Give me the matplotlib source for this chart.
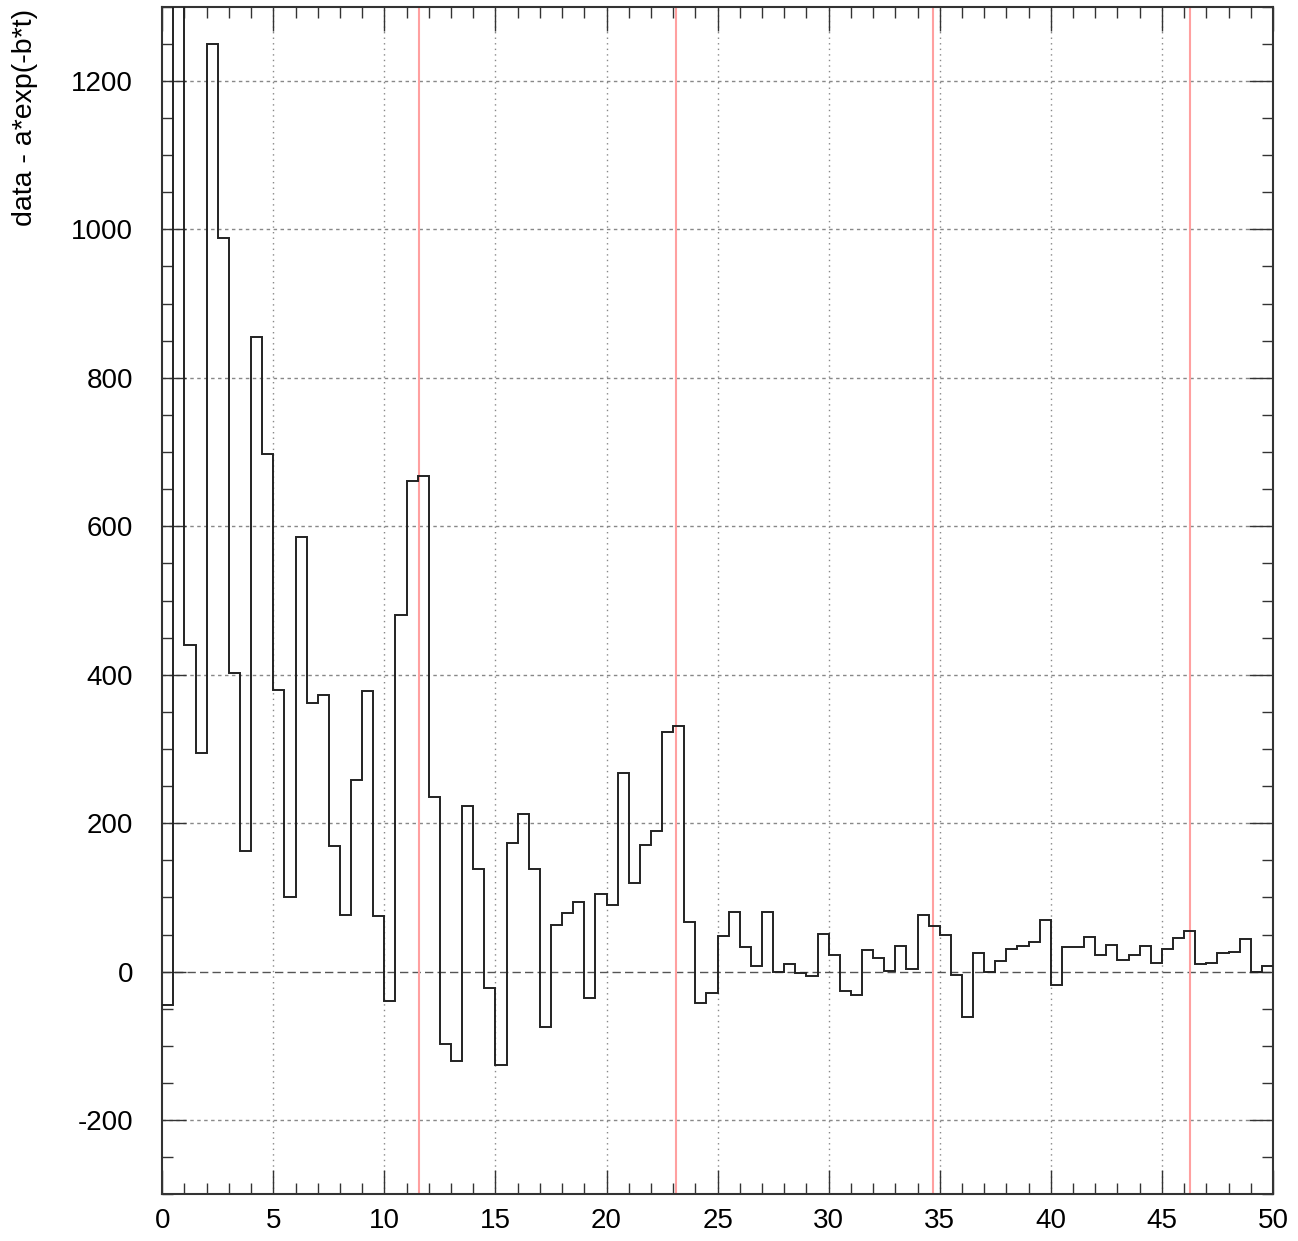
import numpy as np
import matplotlib
matplotlib.use("Agg")
import matplotlib.pyplot as plt
from matplotlib.ticker import MultipleLocator

# residual histogram, 0.5 wide bins from 0 to 50
bin_width = 0.5
residual = [
    -45, 1400, 440, 295, 1250, 988, 403, 162, 855, 697,
    380, 100, 585, 362, 373, 169, 77, 258, 378, 75,
    -39, 480, 661, 668, 235, -97, -121, 223, 138, -22,
    -126, 173, 212, 138, -75, 63, 79, 94, -36, 104,
    90, 267, 120, 170, 189, 323, 331, 67, -42, -29,
    48, 81, 33, 8, 81, 0, 10, -2, -6, 51,
    22, -26, -31, 29, 19, 1, 34, 4, 76, 61,
    50, -5, -61, 25, 0, 15, 31, 34, 40, 70,
    -18, 33, 33, 47, 22, 36, 16, 22, 34, 11,
    31, 45, 55, 10, 11, 25, 27, 44, 0, 8,
]
edges = np.arange(len(residual) + 1) * bin_width

# period markers
markers = [11.565, 23.13, 34.695, 46.26]

xticks = [0, 5, 10, 15, 20, 25, 30, 35, 40, 45, 50]
yticks = [-200, 0, 200, 400, 600, 800, 1000, 1200]

plt.rcParams['font.family'] = ['Liberation Sans', 'DejaVu Sans']
plt.rcParams['axes.unicode_minus'] = False

fig = plt.figure(figsize=(12.98, 12.41), dpi=100)
ax = fig.add_axes([0.125, 0.0376, 0.8557, 0.957])

ax.set_xlim(0, 50)
ax.set_ylim(-300, 1300)

# grid: dotted verticals, dashed horizontals, long dashes at zero
for x in xticks[1:-1]:
    ax.axvline(x, color='#888888', lw=1.0, ls=(0, (1, 3)), zorder=1)
for y in yticks:
    if y == 0:
        ax.axhline(y, color='#555555', lw=1.0, ls=(0, (6, 3)), zorder=1)
    else:
        ax.axhline(y, color='#888888', lw=1.0, ls=(0, (2.5, 2.5)), zorder=1)

for m in markers:
    ax.axvline(m, color='#ffa0a0', lw=1.5, zorder=2)

ax.stairs(residual, edges, color='#222222', lw=1.4, zorder=3, baseline=None)

ax.set_xticks(xticks)
ax.set_yticks(yticks)
ax.xaxis.set_minor_locator(MultipleLocator(1))
ax.yaxis.set_minor_locator(MultipleLocator(50))
ax.tick_params(which='both', direction='in', top=True, right=True,
               colors='#333333', labelcolor='black', labelsize=20)
ax.tick_params(which='major', length=17, width=1.0)
ax.tick_params(which='minor', length=8, width=1.0)
ax.tick_params(axis='x', pad=10)
ax.tick_params(axis='y', pad=21)

for s in ax.spines.values():
    s.set_color('#333333')
    s.set_linewidth(1.5)

fig.text(0.019, 0.993, 'data - a*exp(-b*t)', rotation=90, ha='center',
         va='top', fontsize=20.5)

fig.savefig('out.png', dpi=100)
